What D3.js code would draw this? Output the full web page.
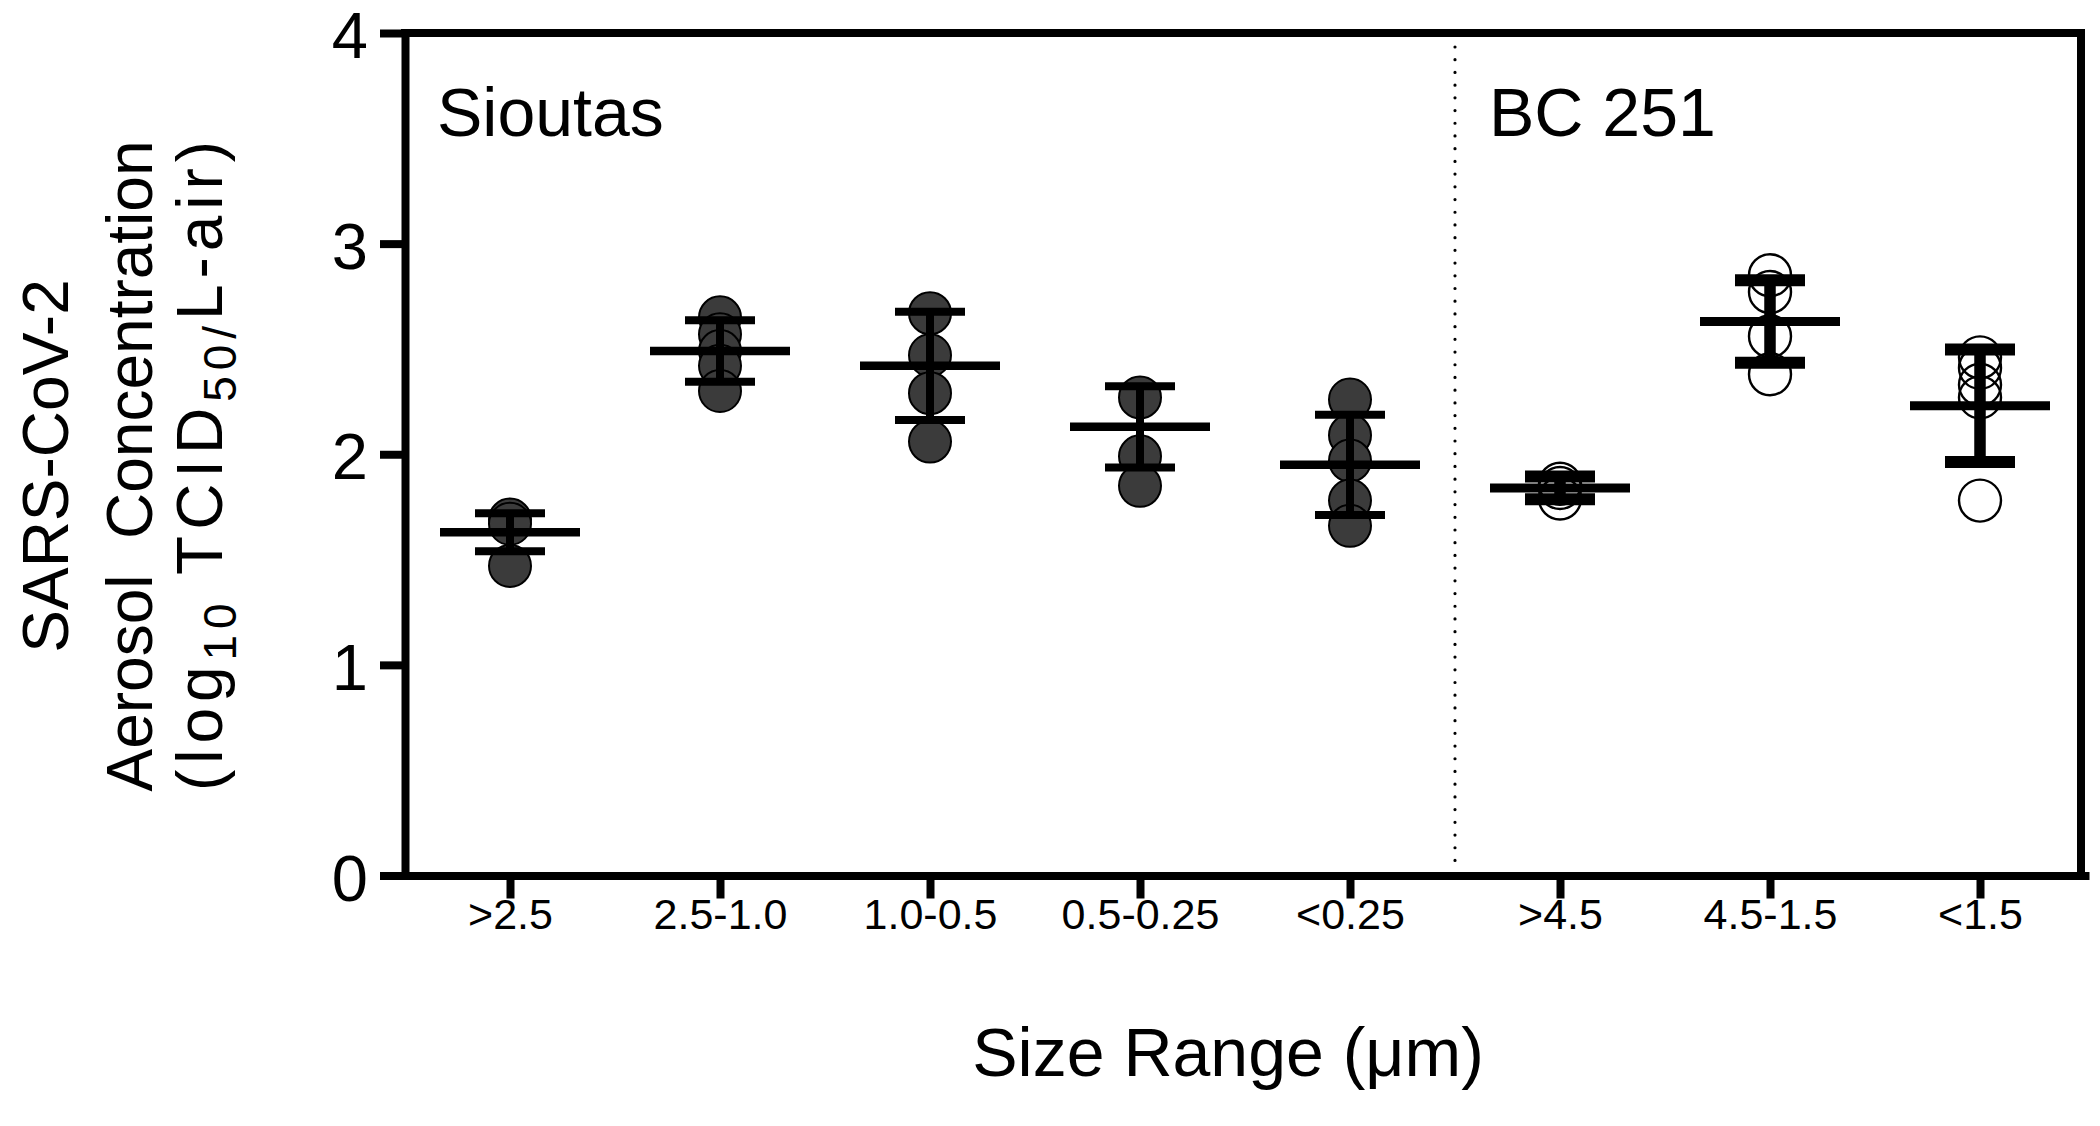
<!DOCTYPE html>
<html>
<head>
<meta charset="utf-8">
<script src="https://cdn.jsdelivr.net/npm/d3@7"></script>
<style>
  html, body { margin: 0; padding: 0; background: #fff; }
  svg { display: block; }
  text { font-family: "Liberation Sans", Arial, Helvetica, sans-serif; fill: #000; }
</style>
</head>
<body>
<svg id="chart" width="2100" height="1126"></svg>
<script>
// ---- data ----
const categories = [">2.5", "2.5-1.0", "1.0-0.5", "0.5-0.25", "<0.25", ">4.5", "4.5-1.5", "<1.5"];
const samplers   = ["Sioutas", "Sioutas", "Sioutas", "Sioutas", "Sioutas", "BC 251", "BC 251", "BC 251"];
const pointsGt25   = [1.69, 1.67, 1.47];
const points25to10 = [2.65, 2.57, 2.49, 2.42, 2.30];
const points10to05 = [2.67, 2.47, 2.29, 2.06];
const points05to025 = [2.27, 1.99, 1.85];
const pointsLt025  = [2.26, 2.09, 1.97, 1.78, 1.66];
const pointsGt45   = [1.86, 1.84, 1.79];
const points45to15 = [2.85, 2.77, 2.56, 2.38];
const pointsLt15   = [2.46, 2.41, 2.33, 2.27, 1.78];
const pointSets = [pointsGt25, points25to10, points10to05, points05to025, pointsLt025, pointsGt45, points45to15, pointsLt15];
const means = [1.63, 2.49, 2.42, 2.13, 1.95, 1.84, 2.63, 2.23];
const sds   = [0.09, 0.146, 0.257, 0.193, 0.238, 0.054, 0.196, 0.267];
const yTicks = [0, 1, 2, 3, 4];
const groupLabels = ["Sioutas", "BC 251"];

// ---- layout ----
const svg = d3.select("#chart");
const pLeft = 405, pRight = 2085, pTop = 33, pBottom = 875.5;
const x = d3.scalePoint().domain(categories).range([pLeft, pRight]).padding(0.5);
const y = d3.scaleLinear().domain([0, 4]).range([pBottom, pTop]);
const step = x.step();

// frame (top and right)
svg.append("path")
  .attr("d", `M${pLeft},${y(4)} H${pRight - 4} V${pBottom}`)
  .attr("fill", "none").attr("stroke", "#000").attr("stroke-width", 8)
  .attr("stroke-linecap", "square");

// divider between the two samplers
const divX = (x(categories[4]) + x(categories[5])) / 2;
svg.append("line")
  .attr("x1", divX).attr("x2", divX)
  .attr("y1", y(4) + 14).attr("y2", pBottom - 6)
  .attr("stroke", "#000").attr("stroke-width", 3.2)
  .attr("stroke-linecap", "round").attr("stroke-dasharray", "0.01 12.7");

// y axis
const yAxis = svg.append("g").attr("transform", `translate(${pLeft},0)`)
  .call(d3.axisLeft(y).tickValues(yTicks).tickSize(25).tickSizeOuter(0).tickPadding(12).tickFormat(d3.format("d")));
yAxis.select(".domain").attr("stroke-width", 8).attr("stroke-linecap", "square");
yAxis.selectAll(".tick line").attr("stroke-width", 8);
yAxis.selectAll(".tick text").attr("font-size", 65).attr("font-family", "Liberation Sans, Arial, sans-serif").attr("dy", "0.38em");

// x axis
const xAxis = svg.append("g").attr("transform", `translate(0,${pBottom})`)
  .call(d3.axisBottom(x).tickSize(23).tickSizeOuter(0).tickPadding(22));
xAxis.select(".domain").attr("stroke-width", 8).attr("stroke-linecap", "square");
xAxis.selectAll(".tick line").attr("stroke-width", 8);
xAxis.selectAll(".tick text").attr("font-size", 43).attr("font-family", "Liberation Sans, Arial, sans-serif").attr("dy", "0.2em");

// points
const pts = [];
pointSets.forEach((arr, i) => arr.forEach(v => pts.push({cat: categories[i], grp: samplers[i], v})));
svg.append("g").selectAll("circle").data(pts).join("circle")
  .attr("cx", d => x(d.cat)).attr("cy", d => y(d.v)).attr("r", 21)
  .attr("fill", d => d.grp === "Sioutas" ? "#3b3b3b" : "none")
  .attr("stroke", "#000").attr("stroke-width", d => d.grp === "Sioutas" ? 2 : 2.4);

// mean ± SD
const summ = categories.map((c, i) => ({cat: c, grp: samplers[i], m: means[i], s: sds[i]}));
const g = svg.append("g").selectAll("g").data(summ).join("g");
g.append("line")
  .attr("x1", d => x(d.cat)).attr("x2", d => x(d.cat))
  .attr("y1", d => y(d.m + d.s)).attr("y2", d => y(d.m - d.s))
  .attr("stroke", "#000").attr("stroke-width", d => d.grp === "Sioutas" ? 8 : 11.5);
[1, -1].forEach(sign => {
  g.append("line")
    .attr("x1", d => x(d.cat) - step / 6).attr("x2", d => x(d.cat) + step / 6)
    .attr("y1", d => y(d.m + sign * d.s)).attr("y2", d => y(d.m + sign * d.s))
    .attr("stroke", "#000").attr("stroke-width", d => d.grp === "Sioutas" ? 8 : 12);
});
g.append("line")
  .attr("x1", d => x(d.cat) - step / 3).attr("x2", d => x(d.cat) + step / 3)
  .attr("y1", d => y(d.m)).attr("y2", d => y(d.m))
  .attr("stroke", "#000").attr("stroke-width", d => d.grp === "Sioutas" ? 8.5 : 9);

// group labels
svg.append("text").attr("x", 437).attr("y", 136).attr("font-size", 68).text(groupLabels[0]);
svg.append("text").attr("x", 1489).attr("y", 136).attr("font-size", 68).text(groupLabels[1]);

// x axis title
svg.append("text").attr("x", 1228).attr("y", 1076).attr("text-anchor", "middle")
  .attr("font-size", 68).text("Size Range (μm)");

// y axis title (three lines)
const yt = svg.append("g").attr("transform", "translate(0,466) rotate(-90)");
yt.append("text").attr("x", 0).attr("y", 68).attr("text-anchor", "middle").attr("font-size", 64).text("SARS-CoV-2");
yt.append("text").attr("x", 0).attr("y", 152).attr("text-anchor", "middle").attr("font-size", 64)
  .attr("xml:space", "preserve").style("white-space", "pre").text("Aerosol  Concentration");
const t3 = yt.append("text").attr("x", 0).attr("y", 222).attr("text-anchor", "middle").attr("font-size", 64)
  .attr("textLength", 650).attr("lengthAdjust", "spacing");
t3.append("tspan").text("(log");
t3.append("tspan").attr("font-size", 46).attr("dy", 14).text("10");
t3.append("tspan").attr("dy", -14).text(" TCID");
t3.append("tspan").attr("font-size", 46).attr("dy", 14).text("50/");
t3.append("tspan").attr("dy", -14).text("L-air)");
</script>
</body>
</html>
